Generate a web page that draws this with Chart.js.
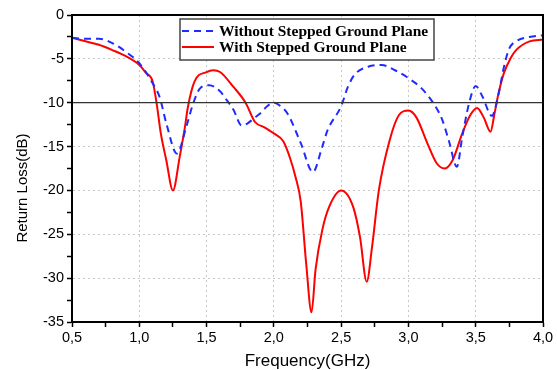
<!DOCTYPE html>
<html>
<head>
<meta charset="utf-8">
<script src="https://cdn.jsdelivr.net/npm/chart.js@4/dist/chart.umd.min.js"></script>
<style>
  html, body { margin: 0; padding: 0; background: #fff; }
  #wrap { width: 557px; height: 370px; }
</style>
</head>
<body>
<div id="wrap"><canvas id="rl-chart" width="557" height="370"></canvas></div>
<script>
// Without stepped ground plane (blue dashed)
const freqWithout = [0.5,0.6,0.7,0.8,0.9,1.0,1.1,1.15,1.2,1.28,1.35,1.4,1.45,1.52,1.6,1.65,1.7,1.76,1.8,1.85,1.9,1.95,2.0,2.05,2.1,2.2,2.29,2.36,2.4,2.5,2.55,2.6,2.7,2.8,2.9,3.0,3.1,3.2,3.25,3.3,3.36,3.4,3.45,3.5,3.55,3.62,3.67,3.71,3.75,3.8,3.9,4.0];
const lossWithout = [-2.6,-2.7,-2.7,-3.2,-4.2,-5.5,-7.8,-9.3,-12.3,-15.8,-12.7,-10.1,-8.4,-8.0,-8.7,-9.7,-10.8,-12.6,-12.4,-11.8,-11.2,-10.4,-10.0,-10.4,-11.2,-14.6,-17.9,-15,-13.1,-10.4,-8.2,-6.8,-5.9,-5.7,-6.3,-7.2,-8.4,-10.4,-11.9,-14.3,-17.3,-13.9,-10.1,-8.1,-9.3,-11.5,-9.0,-5.9,-3.8,-3.0,-2.5,-2.3];

// With stepped ground plane (red solid)
const freqWith = [0.5,0.6,0.7,0.8,0.9,1.0,1.05,1.1,1.13,1.16,1.2,1.25,1.3,1.34,1.36,1.41,1.5,1.55,1.6,1.7,1.79,1.86,1.93,2.0,2.07,2.12,2.16,2.2,2.24,2.28,2.31,2.36,2.41,2.5,2.59,2.64,2.69,2.73,2.78,2.86,2.93,3.0,3.06,3.14,3.21,3.27,3.33,3.4,3.46,3.51,3.56,3.61,3.64,3.67,3.71,3.76,3.8,3.9,4.0];
const lossWith = [-2.6,-3.0,-3.4,-4.0,-4.7,-5.7,-6.6,-7.6,-10.2,-13.5,-16.5,-20,-16.2,-12.7,-10.6,-7.6,-6.5,-6.3,-6.5,-8.2,-10.0,-12.2,-12.8,-13.5,-14.4,-16.3,-18.4,-21.3,-28.3,-33.9,-29,-24.5,-21.9,-20,-21.9,-25.3,-30.4,-26.4,-20,-14.3,-11.4,-10.9,-11.7,-14.6,-16.9,-17.5,-16.5,-13.5,-11.4,-10.6,-11.7,-13.3,-11.2,-8.9,-6.6,-4.9,-4.0,-3.0,-2.8];

const seriesNames = ['Without Stepped Ground Plane', 'With Stepped Ground Plane'];
const xTitle = 'Frequency(GHz)';
const yTitle = 'Return Loss(dB)';
const refLevel = -10;

const toPoints = (xs, ys) => xs.map((x, i) => ({ x: x, y: ys[i] }));

// frame, -10 dB reference line, axis titles and the boxed legend
const extras = {
    id: 'extras',
    afterDatasetsDraw(chart) {
        const ctx = chart.ctx;
        const a = chart.chartArea;
        const y = chart.scales.y.getPixelForValue(refLevel);
        ctx.save();
        ctx.strokeStyle = '#333';
        ctx.lineWidth = 1.2;
        ctx.beginPath();
        ctx.moveTo(a.left, y);
        ctx.lineTo(a.right, y);
        ctx.stroke();

        ctx.strokeStyle = '#000';
        ctx.lineWidth = 2;
        ctx.strokeRect(a.left, a.top, a.right - a.left, a.bottom - a.top);

        // axis titles
        ctx.fillStyle = '#000';
        ctx.textAlign = 'center';
        ctx.textBaseline = 'middle';
        ctx.font = '17px "Liberation Sans"';
        ctx.fillText(xTitle, (a.left + a.right) / 2, 361);
        ctx.save();
        ctx.translate(23, 188);
        ctx.rotate(-Math.PI / 2);
        ctx.font = '15px "Liberation Sans"';
        ctx.fillText(yTitle, 0, 0);
        ctx.restore();

        // legend
        const bx = 180, by = 19, bw = 254, bh = 41;
        ctx.fillStyle = '#fff';
        ctx.fillRect(bx, by, bw, bh);
        ctx.strokeStyle = '#444';
        ctx.lineWidth = 1.5;
        ctx.strokeRect(bx, by, bw, bh);
        ctx.font = 'bold 15.5px "Liberation Serif"';
        ctx.textAlign = 'left';
        ctx.textBaseline = 'middle';
        chart.data.datasets.forEach((ds, i) => {
            const ly = by + 12 + i * 16;
            ctx.strokeStyle = ds.borderColor;
            ctx.lineWidth = 2;
            ctx.setLineDash(ds.borderDash || []);
            ctx.beginPath();
            ctx.moveTo(bx + 2, ly);
            ctx.lineTo(bx + 34, ly);
            ctx.stroke();
            ctx.setLineDash([]);
            ctx.fillStyle = '#000';
            ctx.fillText(ds.label, bx + 39, ly + 1);
        });
        ctx.restore();
    }
};

const ctx = document.getElementById('rl-chart').getContext('2d');
new Chart(ctx, {
    type: 'line',
    data: {
        datasets: [
            {
                label: seriesNames[0],
                data: toPoints(freqWithout, lossWithout),
                borderColor: '#1f2bff',
                borderWidth: 2,
                borderDash: [7, 5],
                pointRadius: 0,
                cubicInterpolationMode: 'monotone',
                fill: false
            },
            {
                label: seriesNames[1],
                data: toPoints(freqWith, lossWith),
                borderColor: '#ff0000',
                borderWidth: 2,
                pointRadius: 0,
                cubicInterpolationMode: 'monotone',
                fill: false
            }
        ]
    },
    options: {
        responsive: false,
        animation: false,
        layout: { padding: { left: 0, right: 14, top: 15, bottom: 0 } },
        plugins: {
            legend: { display: false },
            tooltip: { enabled: false }
        },
        scales: {
            x: {
                type: 'linear',
                min: 0.5,
                max: 4.0,
                ticks: {
                    stepSize: 0.25,
                    color: '#000',
                    font: { family: 'Liberation Sans', size: 14.5 },
                    maxRotation: 0,
                    autoSkip: false,
                    padding: 2,
                    callback: v => (Math.round(v * 100) % 50 === 0) ? v.toFixed(1).replace('.', ',') : ''
                },
                grid: {
                    color: c => (Math.round(c.tick.value * 100) % 50 === 0) ? '#c8c8c8' : 'rgba(0,0,0,0)',
                    tickColor: '#000',
                    tickLength: 5,
                    tickWidth: 1.5
                },
                border: { color: '#000', width: 2, dash: [2, 3] },
                afterFit: s => { s.height = 48; }
            },
            y: {
                min: -35,
                max: 0,
                ticks: {
                    stepSize: 2.5,
                    color: '#000',
                    font: { family: 'Liberation Sans', size: 14.5 },
                    autoSkip: false,
                    padding: 3,
                    callback: v => (v % 5 === 0) ? String(v) : ''
                },
                grid: {
                    color: c => (c.tick.value % 5 === 0) ? '#c8c8c8' : 'rgba(0,0,0,0)',
                    tickColor: '#000',
                    tickLength: 5,
                    tickWidth: 1.5
                },
                border: { color: '#000', width: 2, dash: [2, 3] },
                afterFit: s => { s.width = 72; }
            }
        }
    },
    plugins: [extras]
});
</script>
</body>
</html>
